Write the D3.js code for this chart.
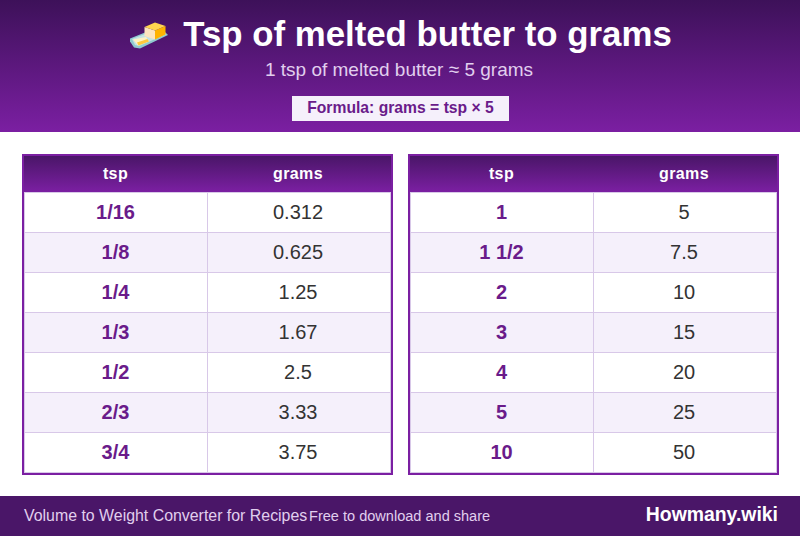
<!DOCTYPE html>
<html>
<head>
<meta charset="utf-8">
<script src="https://cdn.jsdelivr.net/npm/d3@7"></script>
<style>
  html, body { margin: 0; padding: 0; background: #fff; }
  svg { display: block; }
  text { font-family: "Liberation Sans", Arial, sans-serif; text-rendering: optimizeSpeed; }
</style>
</head>
<body>
<div id="chart"></div>
<script>
// table contents
var columns = ['tsp', 'grams'];
var leftTsp = ['1/16', '1/8', '1/4', '1/3', '1/2', '2/3', '3/4'];
var leftGrams = ['0.312', '0.625', '1.25', '1.67', '2.5', '3.33', '3.75'];
var rightTsp = ['1', '1 1/2', '2', '3', '4', '5', '10'];
var rightGrams = ['5', '7.5', '10', '15', '20', '25', '50'];

var w = 800, h = 536;
var dark = '#3d1159', mid = '#7b1fa2', ink = '#6a1b8a', rule = '#d8c8e8';

var svg = d3.select('#chart').append('svg')
  .attr('width', w)
  .attr('height', h);

var defs = svg.append('defs');
function vgrad(id, from, to) {
  var g = defs.append('linearGradient').attr('id', id)
    .attr('x1', 0).attr('y1', 0).attr('x2', 0).attr('y2', 1);
  g.append('stop').attr('offset', 0).attr('stop-color', from);
  g.append('stop').attr('offset', 1).attr('stop-color', to);
}
vgrad('band', dark, mid);
vgrad('head', '#4a1668', mid);

// header band
svg.append('rect').attr('width', w).attr('height', 132).attr('fill', 'url(#band)');

// butter icon
var icon = svg.append('g');
function poly(pts, fill) {
  icon.append('polygon').attr('points', pts).attr('fill', fill);
}
poly('130,38.5 145,32.5 165,32 168,35 140,48.5 134,47.5 130,41.5', '#8fc9cf');
poly('132,39 145,34 165,33.5 166,34.5 139,46 135,45', '#c5e3e4');
poly('133,39.5 146,37 149,41.5 138,45.5', '#fff3c4');
poly('137,42.5 147.5,39 149,41.5 138.5,45.5', '#ffc93c');
poly('144.5,27 155,30.5 155,39.5 144.5,36', '#fde5bf');
poly('155,30.5 165.5,26 165.5,34.5 155,39.5', '#ffb300');
poly('144.5,27 155,22.5 165.5,26 155,30.5', '#ffd54f');

svg.append('text').attr('x', 427.5).attr('y', 46)
  .attr('text-anchor', 'middle').attr('font-size', 34.8).attr('font-weight', 700)
  .attr('fill', '#fff').text('Tsp of melted butter to grams');

svg.append('text').attr('x', 399).attr('y', 76)
  .attr('text-anchor', 'middle').attr('font-size', 19)
  .attr('fill', '#e1cfee').text('1 tsp of melted butter ≈ 5 grams');

svg.append('rect').attr('x', 292).attr('y', 96).attr('width', 217).attr('height', 25).attr('fill', '#f5f0fb');
svg.append('text').attr('x', 400.5).attr('y', 113)
  .attr('text-anchor', 'middle').attr('font-size', 15.7).attr('font-weight', 700)
  .attr('fill', ink).text('Formula: grams = tsp × 5');

// one table
function drawTable(x0, tsp, grams) {
  var tableW = 371, headH = 36, top = 156, rowH = 40;
  var g = svg.append('g');
  var y = d3.scaleBand().domain(d3.range(tsp.length))
    .range([top + headH, top + headH + rowH * tsp.length]);
  var x = d3.scaleOrdinal().domain(columns).range([x0 + 93.5, x0 + 276]);
  var bottom = top + headH + rowH * tsp.length;

  g.append('rect').attr('x', x0 + 2).attr('y', top).attr('width', tableW - 4).attr('height', headH)
    .attr('fill', 'url(#head)');

  g.selectAll('rect.row').data(tsp).enter().append('rect').attr('class', 'row')
    .attr('x', x0 + 2)
    .attr('y', function(d, i) { return y(i); })
    .attr('width', tableW - 4)
    .attr('height', rowH)
    .attr('fill', function(d, i) { return i % 2 ? '#f5f0fb' : '#fff'; });

  g.selectAll('line.row').data(d3.range(tsp.length + 1)).enter().append('line').attr('class', 'row')
    .attr('x1', x0 + 2).attr('x2', x0 + tableW - 2)
    .attr('y1', function(d) { return top + headH + rowH * d + 0.5; })
    .attr('y2', function(d) { return top + headH + rowH * d + 0.5; })
    .attr('stroke', rule);

  g.append('line')
    .attr('x1', x0 + 185.5).attr('x2', x0 + 185.5)
    .attr('y1', top + headH).attr('y2', bottom)
    .attr('stroke', rule);
  g.append('line')
    .attr('x1', x0 + 2.5).attr('x2', x0 + 2.5)
    .attr('y1', top + headH).attr('y2', bottom)
    .attr('stroke', rule);
  g.append('line')
    .attr('x1', x0 + tableW - 2.5).attr('x2', x0 + tableW - 2.5)
    .attr('y1', top + headH).attr('y2', bottom)
    .attr('stroke', rule);

  g.append('rect').attr('x', x0 + 1).attr('y', top - 1)
    .attr('width', tableW - 2).attr('height', bottom - top + 3)
    .attr('fill', 'none').attr('stroke', mid).attr('stroke-width', 2);

  g.selectAll('text.head').data(columns).enter().append('text').attr('class', 'head')
    .attr('x', function(d) { return x(d); })
    .attr('y', top + 23)
    .attr('text-anchor', 'middle').attr('font-size', 16).attr('font-weight', 700)
    .attr('letter-spacing', 0.4)
    .attr('fill', '#fff')
    .text(function(d) { return d; });

  g.selectAll('text.tsp').data(tsp).enter().append('text').attr('class', 'tsp')
    .attr('x', x('tsp'))
    .attr('y', function(d, i) { return y(i) + 27; })
    .attr('text-anchor', 'middle').attr('font-size', 20).attr('font-weight', 700)
    .attr('fill', ink)
    .text(function(d) { return d; });

  g.selectAll('text.grams').data(grams).enter().append('text').attr('class', 'grams')
    .attr('x', x('grams'))
    .attr('y', function(d, i) { return y(i) + 27; })
    .attr('text-anchor', 'middle').attr('font-size', 20)
    .attr('fill', '#333')
    .text(function(d) { return d; });
}
drawTable(22, leftTsp, leftGrams);
drawTable(408, rightTsp, rightGrams);

// footer
svg.append('rect').attr('y', 496).attr('width', w).attr('height', 40).attr('fill', '#4a1668');
svg.append('text').attr('x', 24).attr('y', 521).attr('font-size', 15.9)
  .attr('fill', '#e1cfee').text('Volume to Weight Converter for Recipes');
svg.append('text').attr('x', 309).attr('y', 521).attr('font-size', 14.55)
  .attr('fill', '#e1cfee').text('Free to download and share');
svg.append('text').attr('x', 778).attr('y', 521).attr('text-anchor', 'end')
  .attr('font-size', 19.4).attr('font-weight', 700)
  .attr('fill', '#fff').text('Howmany.wiki');
</script>
</body>
</html>
